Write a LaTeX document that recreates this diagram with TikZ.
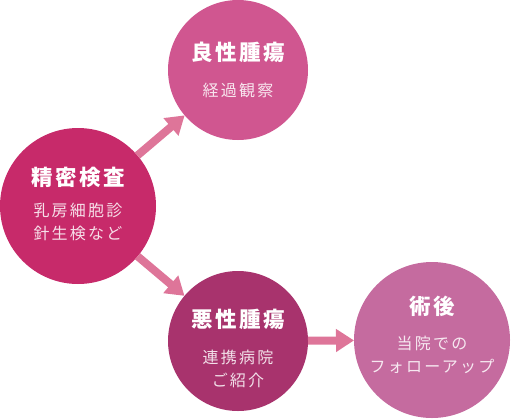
\documentclass[tikz,border=0pt]{standalone}
\usepackage{fontspec}
\usepackage{tikz}
\usetikzlibrary{arrows.meta}
\newfontfamily\jptitle{Noto Sans CJK JP}[LetterSpace=12]
\newfontfamily\jpsub{Noto Sans CJK JP}[LetterSpace=14]
\definecolor{kensacol}{HTML}{C72A6A}
\definecolor{ryoseicol}{HTML}{D05690}
\definecolor{akuseicol}{HTML}{A8336D}
\definecolor{jutsugocol}{HTML}{C56B9F}
\definecolor{arrowcol}{HTML}{DE7599}

\begin{document}
\begin{tikzpicture}[
    x=1pt, y=-1pt,
    stage/.style={circle, inner sep=0pt, outer sep=0pt},
    title/.style={text=white, font=\jptitle\bfseries\fontsize{21.5}{26}\selectfont},
    sub/.style={text=white, text opacity=0.85, align=center, font=\jpsub\fontsize{16}{23.5}\selectfont},
    arrow/.style={-{Triangle[width=22pt, length=18pt]}, line width=8pt, arrowcol}
]
    \useasboundingbox (0,0) rectangle (511,418);

    % Circle centres
    \coordinate (c1) at (78,206);
    \coordinate (c2) at (238,70);
    \coordinate (c3) at (238,341);
    \coordinate (c4) at (432,340);

    % Stages
    \node[stage, fill=kensacol, minimum size=156pt] (kensa) at (c1) {};
    \node[stage, fill=ryoseicol, minimum size=140pt] (ryosei) at (c2) {};
    \node[stage, fill=akuseicol, minimum size=140pt] (akusei) at (c3) {};
    \node[stage, fill=jutsugocol, minimum size=156pt] (jutsugo) at (c4) {};

    % Flow
    \draw[arrow] (kensa) -- (ryosei);
    \draw[arrow] (kensa) -- (akusei);
    \draw[arrow] (akusei) -- (jutsugo);

    % Texts
    \node[title] (kensaT) at (78,177) {精密検査};
    \node[sub] (kensaS) at (78,222) {乳房細胞診\\針生検など};

    \node[title] (ryoseiT) at (238,52) {良性腫瘍};
    \node[sub] (ryoseiS) at (238,90) {経過観察};

    \node[title] (akuseiT) at (238,319) {悪性腫瘍};
    \node[sub] (akuseiS) at (238,369) {連携病院\\ご紹介};

    \node[title] (jutsugoT) at (432,306) {術後};
    \node[sub] (jutsugoS) at (432,355) {当院での\\フォローアップ};
\end{tikzpicture}
\end{document}
